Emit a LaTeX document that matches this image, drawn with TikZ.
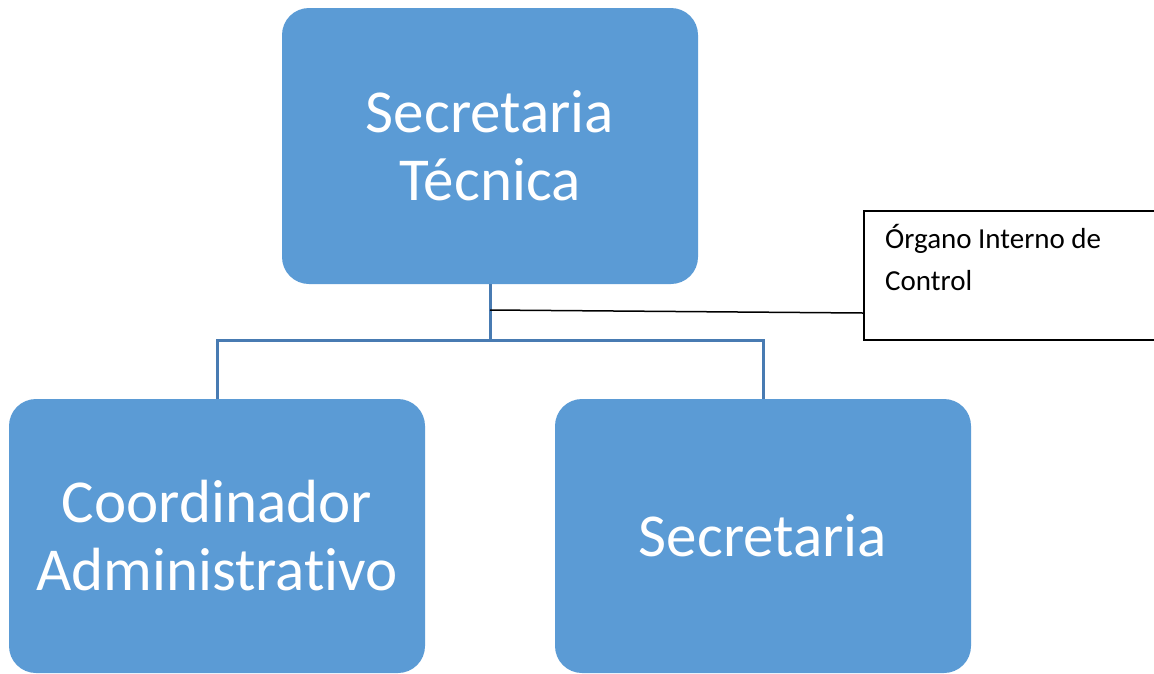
\documentclass[tikz,border=0pt]{standalone}
\usepackage{fontspec}
\setmainfont{Carlito}[Ligatures={NoCommon,NoRequired,NoContextual}]
\definecolor{boxblue}{HTML}{5B9BD5}
\definecolor{connblue}{RGB}{72,123,178}
\begin{document}
\begin{tikzpicture}[x=1pt,y=-1pt,
  box/.style={fill=boxblue, rounded corners=27pt, minimum width=416pt, minimum height=276pt,
    text=white, font=\fontsize{61}{68}\selectfont, align=center, inner sep=0pt},
  conn/.style={draw=connblue, line width=3pt},
  sidebox/.style={draw=black, line width=1.5pt, minimum width=295pt, minimum height=129pt, inner sep=0pt},
  sidetext/.style={font=\fontsize{29}{42}\selectfont, align=left, inner sep=0pt}]
\useasboundingbox (0,0) rectangle (1154,673);
\node[box] (top) at (490,146) {Secretaria\\Técnica};
\node[box, minimum height=274pt] (left) at (217,536) {Coordinador\\Administrativo};
\node[box, minimum height=274pt] (right) at (763,536) {Secretaria};
\node[sidebox, anchor=north west] (oic) at (863,210) {};
\node[sidetext, anchor=base west] (oictext) at (885,290) {Órgano Interno de\\Control};
\coordinate (bus) at (490,340);
\coordinate (tap) at (490,310);
\coordinate (oicin) at (863,313);
\draw[conn] (top.south) -- (bus);
\draw[conn] (bus) -| (left.north);
\draw[conn] (bus) -| (right.north);
\draw[black, line width=1.5pt] (tap) -- (oicin);
\end{tikzpicture}
\end{document}
